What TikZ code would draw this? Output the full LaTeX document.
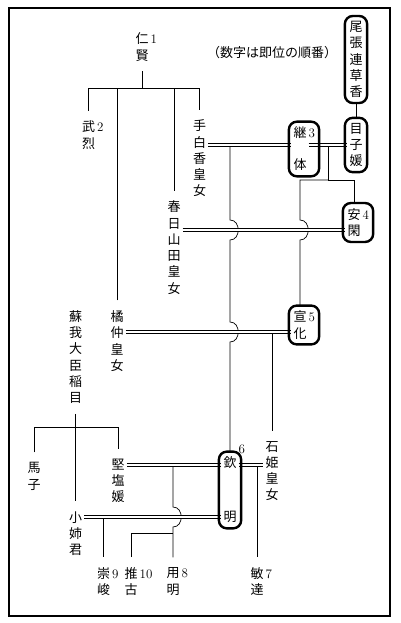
\documentclass[tikz,border=0pt]{standalone}
\usepackage{fontspec}
\newfontfamily\jp{Noto Sans CJK JP}
\usetikzlibrary{fit}
\newcommand\jinum[1]{\rlap{\,\rmfamily #1}}
\newcommand\hop[2]{-- (#1,#2-10) .. controls +(11,0) and +(11,0) .. (#1,#2+10)}

\begin{document}
\begin{tikzpicture}[x=1pt,y=-1pt,line width=0.7pt,
  person/.style={font=\jp\fontsize{13}{16.25}\selectfont,align=center,inner xsep=1.8pt,inner ysep=10pt},
  marked/.style={person,inner ysep=5pt},
  ring/.style={draw,line width=2.4pt,rounded corners=8pt,inner xsep=2.5pt,inner ysep=0pt},
  marry/.style={double,double distance=2.4pt}]
\useasboundingbox (0,0) rectangle (400,623);
\draw[line width=1.3pt] (9,8) rectangle (390,616);
\node[font=\jp\fontsize{13}{13}\selectfont] (note) at (272,53) {（数字は即位の順番）};
% people
\node[person] (ninken) at (142,47) {仁\jinum{1}\\賢};
\node[person] (buretsu) at (88.5,135) {武\jinum{2}\\烈};
\node[person] (tashiraka) at (199.5,158.5) {手\\白\\香\\皇\\女};
\node[person] (kasuga) at (174,247.5) {春\\日\\山\\田\\皇\\女};
\node[person] (tachibana) at (117,341) {橘\\仲\\皇\\女};
\node[marked] (kusaka) at (356,59.5) {尾\\張\\連\\草\\香};
\node[marked] (menoko) at (356,145) {目\\子\\媛};
\node[marked] (keitai) at (300,149) {継\jinum{3}\\[15.75pt]体};
\node[marked] (ankan) at (354,222.5) {安\jinum{4}\\閑};
\node[marked] (senka) at (300,325) {宣\jinum{5}\\化};
\node[person] (iname) at (75.5,357) {蘇\\我\\大\\臣\\稲\\目};
\node[person] (ishihime) at (272,471) {石\\姫\\皇\\女};
\node[person] (umako) at (34,476.5) {馬\\子};
\node[person] (kitashi) at (118,481) {堅\\塩\\媛};
\node[marked] (kinmei) at (230,490) {欽\rlap{\raisebox{14.5pt}[0pt][0pt]{\,\rmfamily 6}}\\[37.75pt]明};
\node[person] (oane) at (75.5,533.5) {小\\姉\\君};
\node[person] (sushun) at (103.5,581.5) {崇\jinum{9}\\峻};
\node[person] (suiko) at (131,581.5) {推\jinum{10}\\古};
\node[person] (yomei) at (173,581.5) {用\jinum{8}\\明};
\node[person] (bidatsu) at (257,581.5) {敏\jinum{7}\\達};

% descent
\coordinate (nb) at (142,88);
\draw (ninken) -- (nb);
\draw (buretsu.north) -- (buretsu.north |- nb) -- (tashiraka.north |- nb) -- (tashiraka.north);
\draw (tachibana.north) -- (tachibana.north |- nb);
\draw (kasuga.north) -- (kasuga.north |- nb);
\draw (kusaka) -- (menoko);

\coordinate (tk) at (kinmei |- 0,145);
\coordinate (km) at (328,145);
\coordinate (kmb) at (328,180);
\draw (tk) \hop{230}{230} \hop{230}{332} -- (kinmei);
\draw (km) -- (kmb) -| (ankan);
\draw (kmb) -| (300,220) \hop{300}{230} -- (senka);

\coordinate (ts) at (ishihime |- 0,332);
\draw (ts) -- (ishihime);

\coordinate (ib) at (75.5,427);
\draw (iname) -- (oane);
\draw (umako.north) -- (umako.north |- ib) -- (kitashi.north |- ib) -- (kitashi.north);

\coordinate (kk) at (yomei |- 0,465);
\coordinate (ki) at (bidatsu |- 0,465);
\coordinate (ok) at (sushun |- 0,517);
\draw (kk) \hop{173}{517} -- (yomei);
\draw (suiko.north) |- (kk |- 0,533);
\draw (ok) -- (sushun);
\draw (ki) -- (bidatsu);

% marriages
\draw[marry] (tashiraka.east |- tk) -- (keitai.west |- tk);
\draw[marry] (keitai.east |- km) -- (menoko.west |- km);
\draw[marry] (kasuga.east |- 0,230) -- (ankan.west |- 0,230);
\draw[marry] (tachibana.east |- ts) -- (senka.west |- ts);
\draw[marry] (kitashi.east |- kk) -- (kinmei.west |- kk);
\draw[marry] (kinmei.east |- ki) -- (ishihime.west |- ki);
\draw[marry] (oane.east |- ok) -- (kinmei.west |- ok);

% marks
\node[ring,fit=(kusaka)] (kusakaring) {};
\node[ring,fit=(menoko)] (menokoring) {};
\node[ring,fit={(keitai) ([xshift=8pt]keitai.north east)}] (keitairing) {};
\node[ring,fit={(ankan) ([xshift=8pt]ankan.north east)}] (ankanring) {};
\node[ring,fit={(senka) ([xshift=8pt]senka.north east)}] (senkaring) {};
\node[ring,fit=(kinmei)] (kinmeiring) {};
\end{tikzpicture}
\end{document}
